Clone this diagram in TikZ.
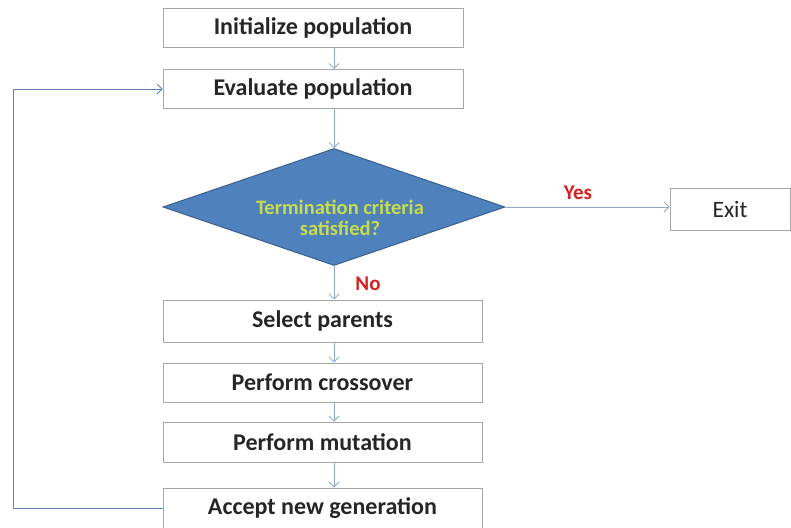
\documentclass[tikz,border=0pt]{standalone}
\usepackage{fontspec}
\setmainfont{Carlito}
\usetikzlibrary{shapes.geometric,arrows.meta}
\definecolor{boxline}{HTML}{A6A6A6}
\definecolor{arrowc}{HTML}{8EA9C8}
\definecolor{loopc}{HTML}{5B7FB0}
\definecolor{diafill}{HTML}{4F81BD}
\definecolor{diadraw}{HTML}{3A5F8E}
\definecolor{diatext}{HTML}{C8DC4A}
\definecolor{lblred}{HTML}{D42020}
\tikzset{
  stepbox/.style={draw=boxline, line width=1pt, fill=white, rectangle, inner sep=0pt,
    minimum height=39pt, font=\fontsize{24}{28}\selectfont\bfseries, text=black!85},
  arr/.style={draw=arrowc, line width=0.8pt, -{Straight Barb[length=5pt,width=10pt,line width=0.8pt]}},
  lbl/.style={text=lblred, font=\fontsize{21}{24}\selectfont\bfseries}
}
\begin{document}
\begin{tikzpicture}[x=1pt,y=-1pt]
\useasboundingbox (0,0) rectangle (791,527);
\clip (0,0) rectangle (791,527);
\fill[white] (0,0) rectangle (791,527);
\node[stepbox, minimum width=300pt] (init) at (313,28) {Initialize population};
\node[stepbox, minimum width=300pt] (eval) at (313,89) {Evaluate population};
\node[diamond, aspect=2.923, draw=diadraw, line width=1pt, fill=diafill, inner sep=0pt,
  minimum width=342pt, minimum height=117pt] (dia) at (334,207) {};
\node[align=center, text=diatext, inner sep=0pt,
  font=\fontsize{20.5}{21}\selectfont\bfseries] (diat) at (340,218) {Termination criteria\\satisfied?};
\node[stepbox, minimum width=120pt, minimum height=42pt, font=\fontsize{23.5}{26}\selectfont] (exit) at (730,209) {Exit};
\node[stepbox, minimum width=319pt, minimum height=42pt] (sel) at (322.5,321) {Select parents};
\node[stepbox, minimum width=319pt] (cross) at (322.5,382.5) {Perform crossover};
\node[stepbox, minimum width=319pt, minimum height=40pt] (mut) at (322.5,442) {Perform mutation};
\node[stepbox, minimum width=319pt, minimum height=40pt] (acc) at (322.5,508) {Accept new generation};
\draw[arr] (init.south -| dia.north) -- (eval.north -| dia.north);
\draw[arr] (eval.south -| dia.north) -- (dia.north);
\draw[arr] (dia.east) -- (exit.west |- dia.east);
\draw[arr] (dia.south) -- (sel.north -| dia.south);
\draw[arr] (sel.south -| dia.south) -- (cross.north -| dia.south);
\draw[arr] (cross.south -| dia.south) -- (mut.north -| dia.south);
\draw[arr] (mut.south -| dia.south) -- (acc.north -| dia.south);
\coordinate (lc) at (13,0);
\draw[draw=loopc, line width=1pt, -{Straight Barb[length=5pt,width=10pt,line width=0.8pt]}] (acc.west) -- (acc.west -| lc) -- (eval.west -| lc) -- (eval.west);
\node[lbl] (yes) at (578,193) {Yes};
\node[lbl] (no) at (368,284) {No};
\end{tikzpicture}
\end{document}
